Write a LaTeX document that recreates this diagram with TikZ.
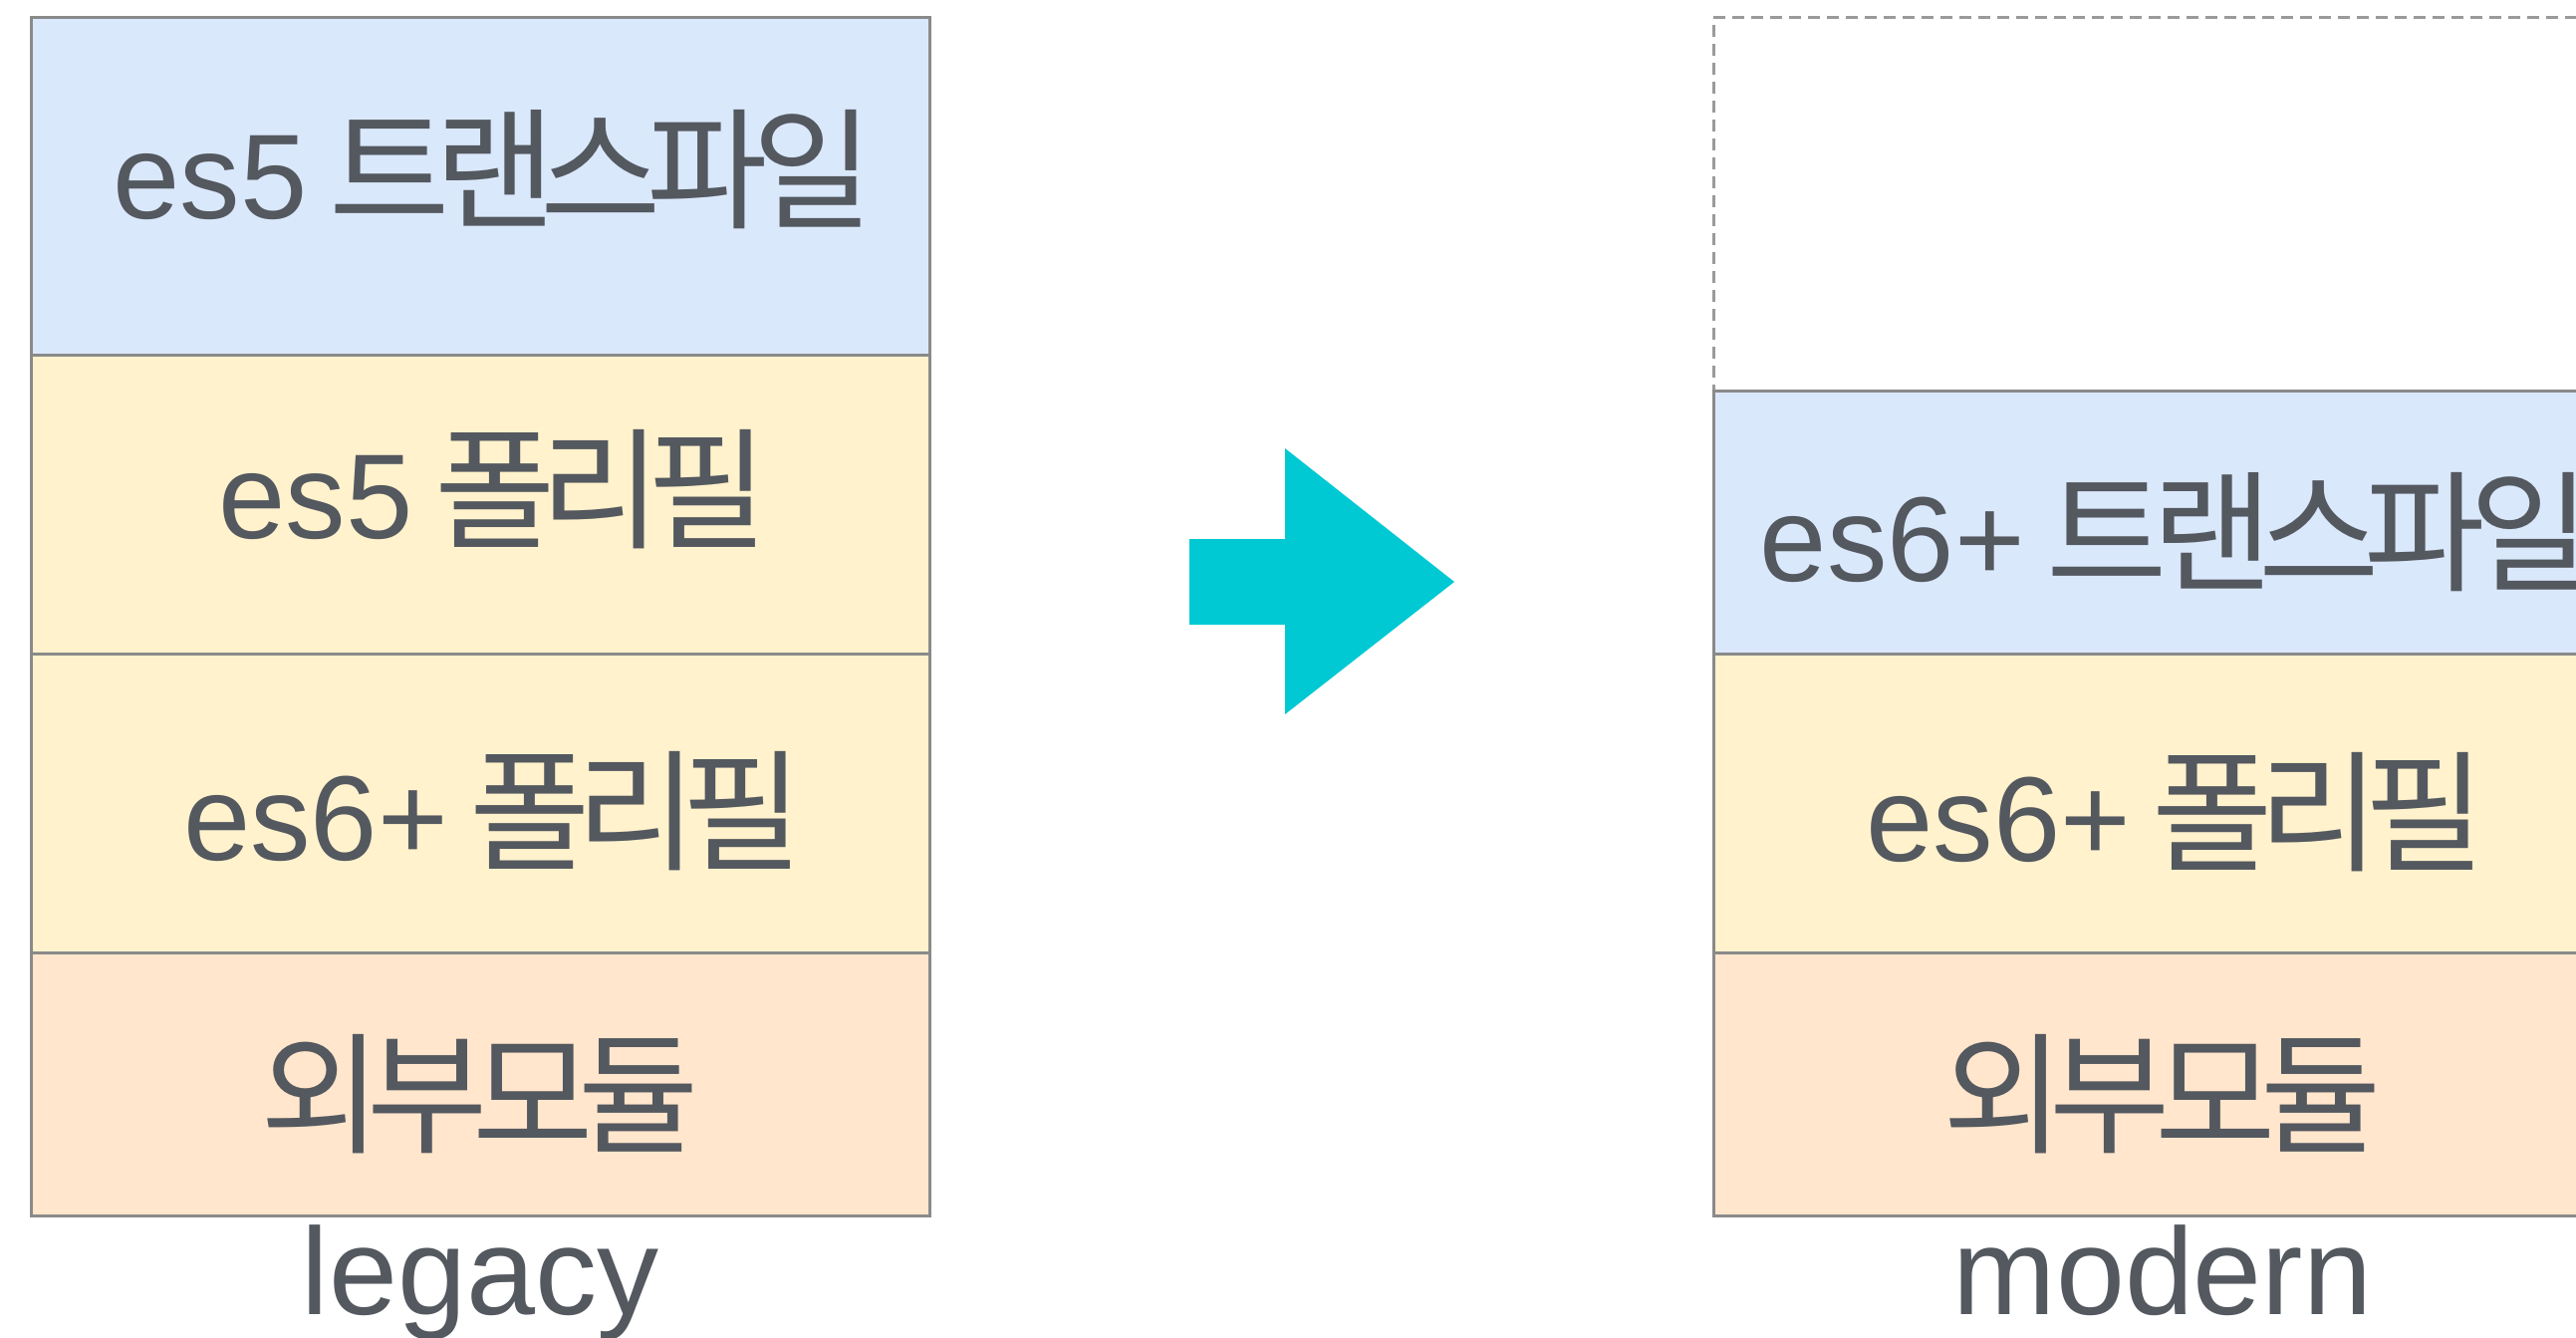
\documentclass[tikz,border=0pt]{standalone}
\usepackage{fontspec}
\setmainfont[WordSpace=0.65]{Liberation Sans}
\newfontfamily\hgfont[LetterSpace=-11.5]{Noto Sans CJK KR}
\newcommand\hg[1]{{\hgfont\fontsize{132}{150}\selectfont #1}}
\usetikzlibrary{positioning}

\definecolor{layerBlue}{HTML}{DAE8FC}
\definecolor{layerYellow}{HTML}{FFF2CC}
\definecolor{layerPeach}{HTML}{FFE6CC}
\definecolor{edgeGray}{HTML}{8A8A8A}
\definecolor{dashGray}{HTML}{9A9A9A}
\definecolor{inkGray}{HTML}{54585F}
\definecolor{arrowCyan}{HTML}{00C9D3}

\begin{document}
\begin{tikzpicture}[x=1pt, y=-1pt,
  layer/.style={rectangle, draw=edgeGray, line width=3pt, minimum width=902pt, inner sep=0pt, outer sep=0pt},
  transLayer/.style={layer, fill=layerBlue},
  polyLayer/.style={layer, fill=layerYellow, minimum height=300pt},
  moduleLayer/.style={layer, fill=layerPeach, minimum height=264pt},
  emptyLayer/.style={layer, draw=dashGray, dash pattern=on 12pt off 7pt},
  layerText/.style={text=inkGray, inner sep=0pt, font=\fontsize{121}{150}\selectfont},
  mixedText/.style={layerText, xshift=13pt},
  caption/.style={text=inkGray, font=\fontsize{124}{150}\selectfont, anchor=base}
]

\useasboundingbox (0,0) rectangle (2586,1343);
\clip (0,0) rectangle (2586,1343);

% legacy stack
\node (lgTrans) [transLayer, minimum height=338pt, anchor=north west] at (31,18) {};
\node (lgPoly5) [polyLayer, below=0pt of lgTrans] {};
\node (lgPoly6) [polyLayer, below=0pt of lgPoly5] {};
\node (lgModule) [moduleLayer, below=0pt of lgPoly6] {};
\node (lgTransText) [mixedText, yshift=17pt] at (lgTrans) {es5 \hg{트랜스파일}};
\node (lgPoly5Text) [mixedText, yshift=15pt] at (lgPoly5) {es5 \hg{폴리필}};
\node (lgPoly6Text) [mixedText, yshift=-8pt] at (lgPoly6) {es6+ \hg{폴리필}};
\node (lgModuleText) [layerText, yshift=-10pt] at (lgModule) {\hg{외부모듈}};
\node (lgLabel) [caption] at (482,1319) {legacy};

% modern stack
\node (mdEmpty) [emptyLayer, minimum height=374pt, anchor=north west] at (1720,18) {};
\node (mdTrans) [transLayer, minimum height=264pt, below=0pt of mdEmpty] {};
\node (mdPoly6) [polyLayer, below=0pt of mdTrans] {};
\node (mdModule) [moduleLayer, below=0pt of mdPoly6] {};
\node (mdTransText) [mixedText, yshift=-10pt] at (mdTrans) {es6+ \hg{트랜스파일}};
\node (mdPoly6Text) [mixedText, yshift=-9pt] at (mdPoly6) {es6+ \hg{폴리필}};
\node (mdModuleText) [layerText, yshift=-10pt] at (mdModule) {\hg{외부모듈}};
\node (mdLabel) [caption] at (2171,1319) {modern};

% big arrow
\fill[arrowCyan] (1194,541) -- (1290,541) -- (1290,450) -- (1460,584)
  -- (1290,717) -- (1290,627) -- (1194,627) -- cycle;

\end{tikzpicture}
\end{document}
